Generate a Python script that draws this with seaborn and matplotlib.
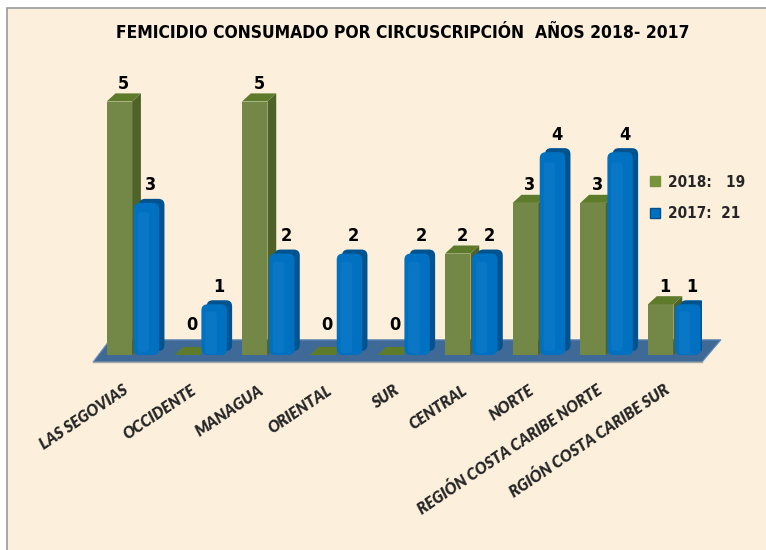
import numpy as np
import pandas as pd
import matplotlib
matplotlib.use("Agg")
import matplotlib.pyplot as plt
import seaborn as sns
from matplotlib.patches import Polygon, FancyBboxPatch, Rectangle
from matplotlib.lines import Line2D
from matplotlib import font_manager

# ---------------- data ----------------
categories = ["LAS SEGOVIAS", "OCCIDENTE", "MANAGUA", "ORIENTAL", "SUR", "CENTRAL",
              "NORTE", "REGIÓN COSTA CARIBE NORTE", "RGIÓN COSTA CARIBE SUR"]
values_2018 = [5, 0, 5, 0, 0, 2, 3, 3, 1]
values_2017 = [3, 1, 2, 2, 2, 2, 4, 4, 1]
years = ["2018", "2017"]
title_text = "FEMICIDIO CONSUMADO POR CIRCUSCRIPCIÓN  AÑOS 2018- 2017"

df = pd.DataFrame({
    "cat": categories * 2,
    "year": [years[0]] * len(categories) + [years[1]] * len(categories),
    "val": values_2018 + values_2017,
})

# ---------------- style ----------------
sns.set_theme(style="white")
fl = font_manager.fontManager.ttflist
names = {f.name for f in fl}
if "Liberation Sans Narrow" in names:
    narrow, stretch = "Liberation Sans Narrow", "normal"
elif any(f.name == "DejaVu Sans" and f.stretch == "condensed" and f.weight in ("bold", 700) for f in fl):
    narrow, stretch = "DejaVu Sans", "condensed"
else:
    narrow, stretch = "Liberation Sans", "normal"
label_font = "Lato" if "Lato" in names else "DejaVu Sans"
plt.rcParams["font.family"] = ["DejaVu Sans"]

GREEN, GREEN_TOP, GREEN_SIDE = "#77933C", "#5E7A2B", "#4F6228"
BLUE, BLUE_SIDE = "#0070C0", "#00538F"
CREAM = "#FCF0DC"

W, H = 766, 550
fig = plt.figure(figsize=(W / 100, H / 100), dpi=100, facecolor="white")
bg = Rectangle((7 / W, -0.02), 1.0, 1 - 8 / H + 0.02, transform=fig.transFigure,
               facecolor=CREAM, edgecolor="#9A9A9A", lw=1.2, zorder=-10)
fig.patches.append(bg)

px_x = 67.67   # px per category
px_y = 50.7    # px per unit value
base_px = 355
ax_bottom_px, ax_top_px = 372, 60
ylim = (-(ax_bottom_px - base_px) / px_y, (base_px - ax_top_px) / px_y)
ax = fig.add_axes([93 / W, (H - ax_bottom_px) / H, 609 / W, (ax_bottom_px - ax_top_px) / H])
ax.set_facecolor("none")
ax.set_zorder(1)

sns.barplot(data=df, x="cat", y="val", hue="year", hue_order=years,
            palette=[GREEN, BLUE], order=categories, width=0.8, gap=0.06,
            legend=False, ax=ax, zorder=3)
ax.set_xlim(-0.5, len(categories) - 0.5)
ax.set_ylim(*ylim)

dx, dy = 0.13, 0.16
shift = 0.09
floor_y0, floor_y1 = -0.14, 0.30
n = len(categories)
bars = list(ax.patches)

# floor
floor = Polygon([(-0.5, floor_y0), (n - 0.5, floor_y0),
                 (n - 0.5 + 0.28, floor_y1), (-0.5 + 0.25, floor_y1)],
                closed=True, facecolor="#3F6A98", edgecolor="#6A8FB8", lw=0.8, zorder=1,
                clip_on=False)
ax.add_patch(floor)

for i, p in enumerate(bars):
    is_green = i < n
    x = p.get_x() + shift
    w = p.get_width()
    h = p.get_height()
    p.set_x(x)
    if is_green:
        p.set_zorder(4)
        p.set_edgecolor("none")
        top = Polygon([(x, h), (x + w, h), (x + w + dx, h + dy), (x + dx, h + dy)],
                      closed=True, facecolor=GREEN_TOP, edgecolor="none", zorder=4)
        side = Polygon([(x + w, 0), (x + w + dx, dy), (x + w + dx, h + dy), (x + w, h)],
                       closed=True, facecolor=GREEN_SIDE, edgecolor="none", zorder=4)
        ax.add_patch(side)
        ax.add_patch(top)
    else:
        p.set_visible(False)
        ma = px_x / px_y
        r = 0.09
        back = FancyBboxPatch((x + dx * 0.6, dy * 0.5), w, h,
                              boxstyle=f"round,pad=0,rounding_size={r}", mutation_aspect=ma,
                              facecolor=BLUE_SIDE, edgecolor="none", zorder=5)
        front = FancyBboxPatch((x, 0), w, h,
                               boxstyle=f"round,pad=0,rounding_size={r}", mutation_aspect=ma,
                               facecolor=BLUE, edgecolor="none", zorder=5)
        shine = FancyBboxPatch((x + w * 0.15, h * 0.02), w * 0.45, h * 0.96 - r * ma,
                               boxstyle=f"round,pad=0,rounding_size={r * 0.6}", mutation_aspect=ma,
                               facecolor="#1A86D4", edgecolor="none", alpha=0.35, zorder=5)
        ax.add_patch(back)
        ax.add_patch(front)
        ax.add_patch(shine)
    label_y = max(h, floor_y1 - 0.05) + dy + 0.01
    ax.text(x + w / 2 + dx / 2, label_y, f"{int(h)}", ha="center", va="bottom",
            fontsize=13, fontweight="bold", family=narrow, stretch=stretch,
            color="black", zorder=6)

# axes styling
for s in ["top", "right", "left"]:
    ax.spines[s].set_visible(False)
ax.spines["bottom"].set_position(("data", floor_y0))
ax.spines["bottom"].set_color("#A8A8A8")
ax.spines["bottom"].set_linewidth(1.0)
ax.set_yticks([])
ax.set_xlabel("")
ax.set_ylabel("")
ax.set_xticks(range(n))
ax.set_xticks(np.arange(-0.5, n, 1.0), minor=True)
ax.tick_params(axis="x", which="major", length=0, pad=19)
ax.tick_params(axis="x", which="minor", length=6, color="#A8A8A8", width=1.0, direction="out")
ax.set_xticklabels(categories, rotation=34, ha="right", va="center", rotation_mode="anchor",
                   fontsize=11.3, fontweight="heavy", fontstyle="italic", family=label_font)

# legend
totals = [sum(values_2018), sum(values_2017)]
handles = [Line2D([], [], marker="s", ls="none", markersize=7, color=GREEN),
           Line2D([], [], marker="s", ls="none", markersize=7, color=BLUE, markeredgecolor="#00508C")]
labels = [f"{years[0]}:   {totals[0]}", f"{years[1]}:  {totals[1]}"]
leg = fig.legend(handles, labels, loc="upper right", bbox_to_anchor=(756 / W, 1 - 164 / H),
                 frameon=False, handlelength=0.7, handletextpad=0.5, labelspacing=1.1,
                 borderpad=0.2,
                 prop={"family": narrow, "weight": "bold", "size": 11, "stretch": stretch})

# title
t = fig.text(403 / W, 1 - 33 / H, title_text, ha="center", va="center",
             fontsize=16, fontweight="bold", family=narrow, stretch=stretch, color="black")
fig.canvas.draw()
bb = t.get_window_extent()
t.set_fontsize(16 * 580 / bb.width)

fig.savefig("out.png", dpi=100, facecolor=fig.get_facecolor())
